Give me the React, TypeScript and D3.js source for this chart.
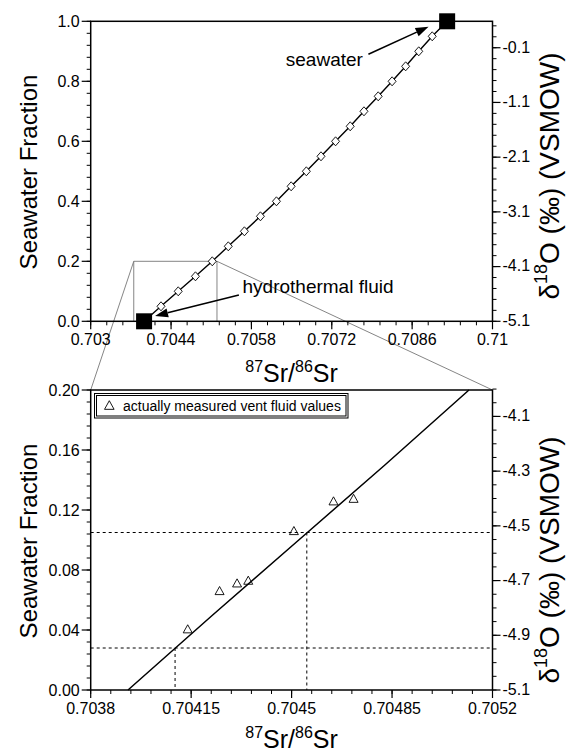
import React from "react";
import * as d3 from "d3";

// Mixing curve: seawater fraction vs 87Sr/86Sr
const mixFraction = [0, 0.05, 0.1, 0.15, 0.2, 0.25, 0.3, 0.35, 0.4, 0.45, 0.5, 0.55, 0.6, 0.65, 0.7, 0.75, 0.8, 0.85, 0.9, 0.95, 1.0];
const mixSr = [0.70393, 0.704225, 0.704525, 0.704825, 0.705118, 0.705397, 0.705678, 0.705957, 0.706236, 0.706492, 0.706757, 0.707012, 0.707266, 0.707521, 0.707761, 0.708009, 0.708251, 0.708487, 0.708715, 0.70895, 0.70921];

// End members
const endMemberSr = [0.70393, 0.70921];
const endMemberFraction = [0, 1];

// Measured vent fluids
const ventSr = [0.704138, 0.704249, 0.70431, 0.704349, 0.704508, 0.704646, 0.704716];
const ventFraction = [0.0405, 0.066, 0.0711, 0.0729, 0.106, 0.1258, 0.1275];

// Reference levels (dashed guides)
const guideSr = [0.704094, 0.704553];
const guideFraction = [0.028, 0.105];

// d18O end members tied to fraction
const d18OHydro = -5.1;
const d18OSea = 0.383;

// Axis ticks
const topXTicks = [0.703, 0.7044, 0.7058, 0.7072, 0.7086, 0.71];
const topXLabels = ["0.703", "0.7044", "0.7058", "0.7072", "0.7086", "0.71"];
const topYTicks = [0, 0.2, 0.4, 0.6, 0.8, 1.0];
const topYLabels = ["0.0", "0.2", "0.4", "0.6", "0.8", "1.0"];
const topRTicks = [-5.1, -4.1, -3.1, -2.1, -1.1, -0.1];
const topRLabels = ["-5.1", "-4.1", "-3.1", "-2.1", "-1.1", "-0.1"];

const botXTicks = [0.7038, 0.70415, 0.7045, 0.70485, 0.7052];
const botXLabels = ["0.7038", "0.70415", "0.7045", "0.70485", "0.7052"];
const botYTicks = [0, 0.04, 0.08, 0.12, 0.16, 0.2];
const botYLabels = ["0.00", "0.04", "0.08", "0.12", "0.16", "0.20"];
const botRTicks = [-5.1, -4.9, -4.7, -4.5, -4.3, -4.1];
const botRLabels = ["-5.1", "-4.9", "-4.7", "-4.5", "-4.3", "-4.1"];

const FONT = "'Liberation Sans', Arial, Helvetica, sans-serif";

const minorRange = (a: number, b: number, step: number) => {
  const n = Math.round((b - a) / step);
  return d3.range(0, n + 1).map((i) => a + i * step);
};

const L = 90.7;
const R = 492.5;

export default function App() {
  // top panel
  const xT = d3.scaleLinear().domain([0.703, 0.71]).range([L, R]);
  const yT = d3.scaleLinear().domain([0, 1]).range([321.3, 21.3]);
  const yTR = d3.scaleLinear().domain([d18OHydro, d18OSea]).range([321.3, 21.3]);

  // bottom panel
  const xB = d3.scaleLinear().domain([0.7038, 0.7052]).range([L, R]);
  const yB = d3.scaleLinear().domain([0, 0.2]).range([690, 390]);
  const yBR = d3
    .scaleLinear()
    .domain([d18OHydro, d18OHydro + (d18OSea - d18OHydro) * 0.2])
    .range([690, 390]);

  const mix = mixSr.map((s, i) => [s, mixFraction[i]] as [number, number]);
  const lineT = d3.line<[number, number]>().x((d) => xT(d[0])).y((d) => yT(d[1]));
  const lowMix = mix.filter((d) => d[1] <= 0.2 + 1e-9);
  const lineB = d3.line<[number, number]>().x((d) => xB(d[0])).y((d) => yB(d[1]));

  const tickText = { fontFamily: FONT, fontSize: 16, fill: "#000" } as const;

  const xAxis = (
    x: d3.ScaleLinear<number, number>,
    y0: number,
    ticks: number[],
    labels: string[],
    minor: number[]
  ) => (
    <g>
      {minor.map((t, i) => (
        <line key={"m" + i} x1={x(t)} x2={x(t)} y1={y0} y2={y0 + 4} stroke="#000" strokeWidth={1} />
      ))}
      {ticks.map((t, i) => (
        <g key={i}>
          <line x1={x(t)} x2={x(t)} y1={y0} y2={y0 + 8} stroke="#000" strokeWidth={1.2} />
          <text x={x(t)} y={y0 + 24} textAnchor="middle" {...tickText}>
            {labels[i]}
          </text>
        </g>
      ))}
    </g>
  );

  const yAxisLeft = (
    y: d3.ScaleLinear<number, number>,
    ticks: number[],
    labels: string[],
    minor: number[]
  ) => (
    <g>
      {minor.map((t, i) => (
        <line key={"m" + i} x1={L - 4} x2={L} y1={y(t)} y2={y(t)} stroke="#000" strokeWidth={1} />
      ))}
      {ticks.map((t, i) => (
        <g key={i}>
          <line x1={L - 9} x2={L} y1={y(t)} y2={y(t)} stroke="#000" strokeWidth={1.2} />
          <text x={L - 11} y={y(t)} dy="0.35em" textAnchor="end" {...tickText}>
            {labels[i]}
          </text>
        </g>
      ))}
    </g>
  );

  const yAxisRight = (
    y: d3.ScaleLinear<number, number>,
    ticks: number[],
    labels: string[],
    minor: number[]
  ) => (
    <g>
      {minor.map((t, i) => (
        <line key={"m" + i} x1={R} x2={R + 4} y1={y(t)} y2={y(t)} stroke="#000" strokeWidth={1} />
      ))}
      {ticks.map((t, i) => (
        <g key={i}>
          <line x1={R} x2={R + 8} y1={y(t)} y2={y(t)} stroke="#000" strokeWidth={1.2} />
          <text x={R + 10} y={y(t)} dy="0.3em" textAnchor="start" {...tickText}>
            {labels[i]}
          </text>
        </g>
      ))}
    </g>
  );

  const srTitle = (cx: number, by: number) => (
    <text x={cx} y={by} textAnchor="middle" fontFamily={FONT} fontSize={25}>
      <tspan fontSize={16} dy="-10">87</tspan>
      <tspan dy="10">Sr/</tspan>
      <tspan fontSize={16} dy="-10">86</tspan>
      <tspan dy="10">Sr</tspan>
    </text>
  );

  const fracTitle = (cy: number) => (
    <text
      transform={`translate(37,${cy}) rotate(-90)`}
      textAnchor="middle"
      fontFamily={FONT}
      fontSize={24}
    >
      Seawater Fraction
    </text>
  );

  const d18OTitle = (cy: number) => (
    <text
      transform={`translate(559,${cy}) rotate(-90)`}
      textAnchor="middle"
      fontFamily={FONT}
      fontSize={28}
    >
      δ<tspan fontSize={18} dy="-12">18</tspan>
      <tspan dy="12">O (‰) (VSMOW)</tspan>
    </text>
  );

  const arrow = (x1: number, y1: number, x2: number, y2: number) => {
    const a = Math.atan2(y2 - y1, x2 - x1);
    const len = 13;
    const w = 4.5;
    const bx = x2 - len * Math.cos(a);
    const by = y2 - len * Math.sin(a);
    const px = -Math.sin(a) * w;
    const py = Math.cos(a) * w;
    return (
      <g>
        <line x1={x1} y1={y1} x2={bx} y2={by} stroke="#000" strokeWidth={1.6} />
        <polygon points={`${x2},${y2} ${bx + px},${by + py} ${bx - px},${by - py}`} fill="#000" />
      </g>
    );
  };

  const diamond = (cx: number, cy: number, k: number) => (
    <path
      key={k}
      d={`M${cx},${cy - 4.5} L${cx + 4},${cy} L${cx},${cy + 4.5} L${cx - 4},${cy} Z`}
      fill="#fff"
      stroke="#000"
      strokeWidth={0.9}
    />
  );

  const triangle = (cx: number, cy: number, k: number | string, s = 4.5) => (
    <path
      key={k}
      d={`M${cx},${cy - s} L${cx + s},${cy + s * 0.8} L${cx - s},${cy + s * 0.8} Z`}
      fill="none"
      stroke="#000"
      strokeWidth={0.9}
    />
  );

  // zoom window outline in top panel
  const zx0 = xT(0.70375);
  const zx1 = xT(0.7052);
  const zyTop = yT(0.2);
  const zyBot = yT(0);

  return (
    <svg width={573} height={752} style={{ display: "block", position: "absolute", left: 0, top: 0 }}>
      <rect width={573} height={752} fill="#fff" />

      {/* zoom window and connectors */}
      <g stroke="#777" strokeWidth={0.9} fill="none">
        <polyline points={`${zx0},${zyBot} ${zx0},${zyTop} ${zx1},${zyTop} ${zx1},${zyBot}`} />
        <line x1={zx0} y1={zyTop} x2={L} y2={390} />
        <line x1={zx1} y1={zyTop} x2={R} y2={390} />
      </g>

      {/* ---------- top panel ---------- */}
      <path d={lineT(mix) || ""} fill="none" stroke="#000" strokeWidth={1.4} />
      {mix.slice(1, -1).map((d, i) => diamond(xT(d[0]), yT(d[1]), i))}
      {endMemberSr.map((s, i) => (
        <rect
          key={i}
          x={xT(s) - 8}
          y={yT(endMemberFraction[i]) - 8}
          width={16}
          height={16}
          fill="#000"
        />
      ))}

      <text x={xT(0.707742)} y={yT(0.85)} textAnchor="end" fontFamily={FONT} fontSize={19}>
        seawater
      </text>
      {arrow(xT(0.707838), yT(0.89), xT(0.708886), yT(0.982))}
      <text x={xT(0.705645)} y={yT(0.095)} fontFamily={FONT} fontSize={19}>
        hydrothermal fluid
      </text>
      {arrow(xT(0.705582), yT(0.0877), xT(0.704121), yT(0.0177))}

      <rect x={L} y={21.3} width={R - L} height={300} fill="none" stroke="#000" strokeWidth={1.5} />
      {xAxis(xT, 321.3, topXTicks, topXLabels, minorRange(0.703, 0.71, 0.00028))}
      {yAxisLeft(yT, topYTicks, topYLabels, minorRange(0, 1, 0.04))}
      {yAxisRight(yTR, topRTicks, topRLabels, minorRange(-5.1, 0.3, 0.2))}
      {srTitle((L + R) / 2, 382)}
      {fracTitle(172)}
      {d18OTitle(176)}

      {/* ---------- bottom panel ---------- */}
      <g stroke="#000" strokeWidth={1} strokeDasharray="3,3" fill="none">
        {guideFraction.map((f, i) => (
          <g key={i}>
            <line x1={L} x2={R} y1={yB(f)} y2={yB(f)} />
            <line x1={xB(guideSr[i])} x2={xB(guideSr[i])} y1={yB(f)} y2={yB(0)} />
          </g>
        ))}
      </g>
      <path d={lineB(lowMix) || ""} fill="none" stroke="#000" strokeWidth={1.5} />
      {ventSr.map((s, i) => triangle(xB(s), yB(ventFraction[i]), i))}

      {/* legend */}
      <rect x={94.5} y={393.5} width={253.5} height={24.5} fill="#fff" stroke="#000" strokeWidth={1} />
      <rect x={96.5} y={395.5} width={249.5} height={20.5} fill="none" stroke="#000" strokeWidth={1} />
      {triangle(109.3, 405.5, "leg", 4.8)}
      <text x={123} y={410.5} fontFamily={FONT} fontSize={14}>
        actually measured vent fluid values
      </text>

      <rect x={L} y={390} width={R - L} height={300} fill="none" stroke="#000" strokeWidth={1.5} />
      {xAxis(xB, 690, botXTicks, botXLabels, minorRange(0.7038, 0.7052, 0.00007))}
      {yAxisLeft(yB, botYTicks, botYLabels, minorRange(0, 0.2, 0.008))}
      {yAxisRight(yBR, botRTicks, botRLabels, minorRange(-5.1, -4.0, 0.05))}
      {srTitle((L + R) / 2, 748)}
      {fracTitle(541)}
      {d18OTitle(560)}
    </svg>
  );
}
